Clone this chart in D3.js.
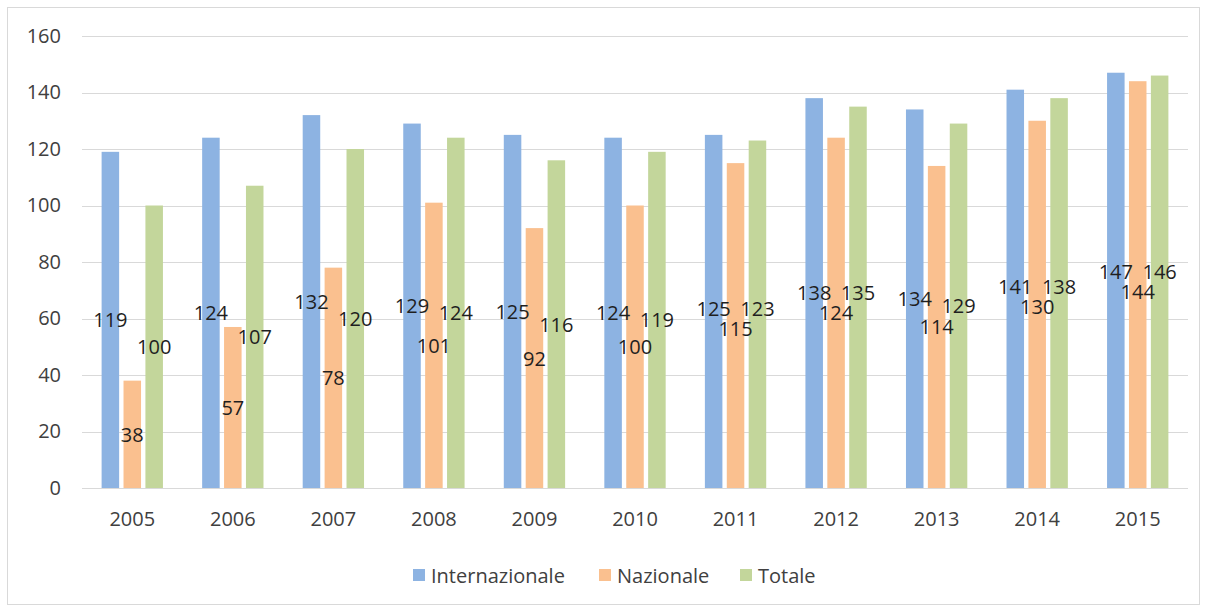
<!DOCTYPE html>
<html>
<head>
<meta charset="utf-8">
<script src="https://cdn.jsdelivr.net/npm/d3@7"></script>
<style>
  body { margin: 0; background: #fff; }
  text { font-family: "Open Sans", sans-serif; }
</style>
</head>
<body>
<svg id="chart" width="1207" height="610"></svg>
<script>
var years = ["2005", "2006", "2007", "2008", "2009", "2010", "2011", "2012", "2013", "2014", "2015"]
var internazionale = [119, 124, 132, 129, 125, 124, 125, 138, 134, 141, 147]
var nazionale = [38, 57, 78, 101, 92, 100, 115, 124, 114, 130, 144]
var totale = [100, 107, 120, 124, 116, 119, 123, 135, 129, 138, 146]
var seriesNames = ["Internazionale", "Nazionale", "Totale"]
var yTicks = [0, 20, 40, 60, 80, 100, 120, 140, 160]

var colors = ["#8db3e2", "#fac08f", "#c3d69b"]
var seriesValues = [internazionale, nazionale, totale]

var svg = d3.select("#chart")

// chart frame
svg.append("rect")
    .attr("x", 7.5).attr("y", 7.5)
    .attr("width", 1192).attr("height", 597)
    .style("fill", "none")
    .style("stroke", "#d9d9d9")
    .style("stroke-width", "1px")

var x0 = d3.scaleBand()
    .domain(years)
    .range([82, 1188])
    .paddingInner(0.39)
    .paddingOuter(0.195)

var x1 = d3.scaleBand()
    .domain(seriesNames)
    .range([0, x0.bandwidth()])
    .paddingInner(0.2)

var y = d3.scaleLinear()
    .domain([0, 160])
    .range([488, 36])

// gridlines
svg.append("g")
    .selectAll("line.grid")
    .data(yTicks)
    .join("line")
    .classed("grid", true)
    .attr("x1", 82)
    .attr("x2", 1188)
    .attr("y1", d => Math.round(y(d)) + 0.5)
    .attr("y2", d => Math.round(y(d)) + 0.5)
    .style("stroke", "#d9d9d9")
    .style("stroke-width", "1px")

// y labels
var yAxis = svg.append("g")
    .attr("transform", "translate(61,0)")
    .call(d3.axisLeft(y).tickValues(yTicks).tickSize(0).tickPadding(0))
yAxis.select(".domain").remove()
yAxis.selectAll("text")
    .style("font-family", "'Open Sans', sans-serif")
    .style("font-size", "20px")
    .style("fill", "#404040")

// x labels
var xAxis = svg.append("g")
    .attr("transform", "translate(0,488)")
    .call(d3.axisBottom(x0).tickSize(0).tickPadding(24))
xAxis.select(".domain").remove()
xAxis.selectAll("text")
    .style("font-family", "'Open Sans', sans-serif")
    .style("font-size", "20px")
    .style("fill", "#404040")

// bars
var rows = []
years.forEach(function(yr, i) {
    seriesNames.forEach(function(s, j) {
        rows.push({ year: yr, series: s, idx: j, value: seriesValues[j][i], color: colors[j] })
    })
})

svg.append("g")
    .selectAll("rect.bar")
    .data(rows)
    .join("rect")
    .classed("bar", true)
    .attr("x", d => x0(d.year) + x1(d.series))
    .attr("y", d => y(d.value))
    .attr("width", x1.bandwidth())
    .attr("height", d => y(0) - y(d.value))
    .style("fill", d => d.color)

// value labels, centred in the bar, nudged apart when they collide (like Excel)
rows.forEach(d => { d.ly = y(d.value / 2) })
var lineH = 20
years.forEach(function(yr) {
    var g = rows.filter(d => d.year === yr)
    var mid = g[1]
    var top = Math.min(g[0].ly, g[2].ly)
    var deficit = lineH - (mid.ly - top)
    if (deficit > 0) {
        mid.ly += Math.min(deficit / 2, 7)
        ;[g[0], g[2]].forEach(function(n) {
            if (mid.ly - n.ly < lineH) n.ly = mid.ly - lineH
        })
    }
})

svg.append("g")
    .selectAll("text.label")
    .data(rows)
    .join("text")
    .classed("label", true)
    .attr("x", d => x0(d.year) + x1(d.series) + x1.bandwidth() / 2)
    .attr("y", d => d.ly)
    .attr("text-anchor", "middle")
    .attr("dominant-baseline", "central")
    .style("font-size", "20px")
    .style("fill", "#1f1f1f")
    .text(d => d.value)

// legend
var legendX = [413, 599, 740]
var legend = svg.append("g")
    .selectAll("g.leg")
    .data(seriesNames)
    .join("g")
    .classed("leg", true)
    .attr("transform", (d, i) => "translate(" + legendX[i] + ",575)")
legend.append("rect")
    .attr("x", 0).attr("y", -6)
    .attr("width", 12).attr("height", 12)
    .style("fill", (d, i) => colors[i])
legend.append("text")
    .attr("x", 18)
    .attr("y", 0)
    .attr("dominant-baseline", "central")
    .style("font-size", "20px")
    .style("fill", "#404040")
    .text(d => d)
</script>
</body>
</html>
